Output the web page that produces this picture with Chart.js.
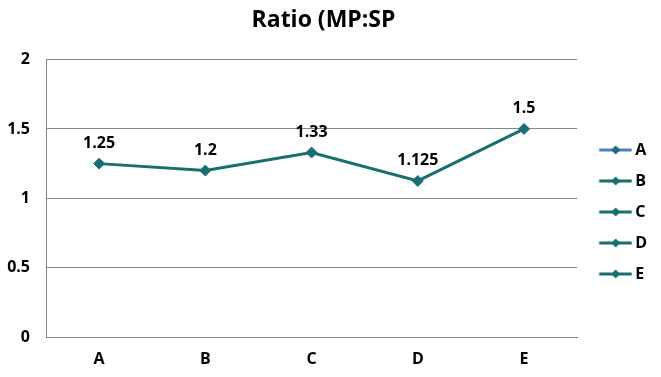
<!DOCTYPE html>
<html>
<head>
<meta charset="utf-8">
<script src="https://cdn.jsdelivr.net/npm/chart.js@4/dist/chart.umd.min.js"></script>
<style>
  html, body { margin: 0; padding: 0; background: #fff; }
  #wrap { width: 661px; height: 377px; position: relative; }
</style>
</head>
<body>
<div id="wrap"><canvas id="c"></canvas></div>
<script>
const categories = ['A', 'B', 'C', 'D', 'E'];
const ratioValues = [1.25, 1.2, 1.33, 1.125, 1.5];
const valueLabels = ['1.25', '1.2', '1.33', '1.125', '1.5'];
const yTicks = [0, 0.5, 1, 1.5, 2];
const yTickLabels = ['0', '0.5', '1', '1.5', '2'];
const legendColors = ['#4F81BD', '#17706E', '#17706E', '#17706E', '#17706E'];

const TEAL = '#17706E';
const FONT = '"Open Sans", "Liberation Sans", sans-serif';

function legendIcon(color) {
  const cv = document.createElement('canvas');
  cv.width = 48; cv.height = 12;
  const x = cv.getContext('2d');
  x.strokeStyle = color; x.lineWidth = 3;
  x.beginPath(); x.moveTo(13.5, 6); x.lineTo(46, 6); x.stroke();
  x.fillStyle = TEAL;
  x.beginPath(); x.moveTo(30, 1.5); x.lineTo(34.5, 6); x.lineTo(30, 10.5); x.lineTo(25.5, 6); x.closePath(); x.fill();
  return cv;
}

const dataLabelPlugin = {
  id: 'dataLabels',
  afterDatasetsDraw(chart) {
    const ctx = chart.ctx;
    const meta = chart.getDatasetMeta(0);
    ctx.save();
    ctx.font = 'bold 16px ' + FONT;
    ctx.fillStyle = '#000';
    ctx.textAlign = 'center';
    ctx.textBaseline = 'alphabetic';
    meta.data.forEach((pt, i) => {
      ctx.fillText(valueLabels[i], pt.x, pt.y - 16);
    });
    ctx.restore();
  }
};

const boxShiftPlugin = {
  id: 'boxShift',
  afterLayout(chart) {
    if (chart.legend) { chart.legend.top += 31; chart.legend.bottom += 22; }
    if (chart.titleBlock) { chart.titleBlock.left -= 17; }
  }
};

new Chart(document.getElementById('c'), {
  type: 'line',
  data: {
    labels: categories,
    datasets: [{
      label: 'Ratio',
      data: ratioValues,
      borderColor: TEAL,
      backgroundColor: TEAL,
      borderWidth: 3,
      pointStyle: 'rectRot',
      pointRadius: 5.5,
      pointBackgroundColor: TEAL,
      pointBorderColor: '#2A6A8A',
      pointBorderWidth: 1,
      tension: 0
    }]
  },
  options: {
    responsive: true,
    maintainAspectRatio: false,
    animation: false,
    layout: { padding: { left: 7, right: 4, top: 0, bottom: 6 } },
    plugins: {
      title: {
        display: true,
        text: 'Ratio (MP:SP',
        color: '#000',
        font: { family: FONT, size: 23, weight: 'bold' },
        padding: { top: 7, bottom: 25 }
      },
      legend: {
        display: true,
        position: 'right',
        align: 'center',
        labels: {
          usePointStyle: true,
          pointStyleWidth: 35,
          color: '#000',
          font: { family: FONT, size: 16, weight: 'bold' },
          padding: 15,
          generateLabels() {
            return categories.map((c, i) => ({
              text: c,
              pointStyle: legendIcon(legendColors[i]),
              fillStyle: legendColors[i],
              strokeStyle: legendColors[i],
              lineWidth: 0,
              hidden: false,
              datasetIndex: 0
            }));
          }
        }
      },
      tooltip: { enabled: false }
    },
    scales: {
      x: {
        offset: true,
        grid: { display: false, drawTicks: false },
        border: { display: true, color: '#868686', width: 1 },
        ticks: { color: '#000', font: { family: FONT, size: 16, weight: 'bold' }, padding: 13 },
        afterFit(scale) { scale.height = 34; }
      },
      y: {
        min: 0, max: 2,
        afterBuildTicks(axis) { axis.ticks = yTicks.map(v => ({ value: v })); },
        grid: { color: '#868686', drawTicks: false, lineWidth: 1 },
        border: { display: true, color: '#868686', width: 1 },
        ticks: {
          color: '#000', font: { family: FONT, size: 16, weight: 'bold' }, padding: 16,
          callback(value, index) { return yTickLabels[index]; }
        },
        afterFit(scale) { scale.width = 39; }
      }
    }
  },
  plugins: [dataLabelPlugin, boxShiftPlugin]
});
</script>
</body>
</html>
